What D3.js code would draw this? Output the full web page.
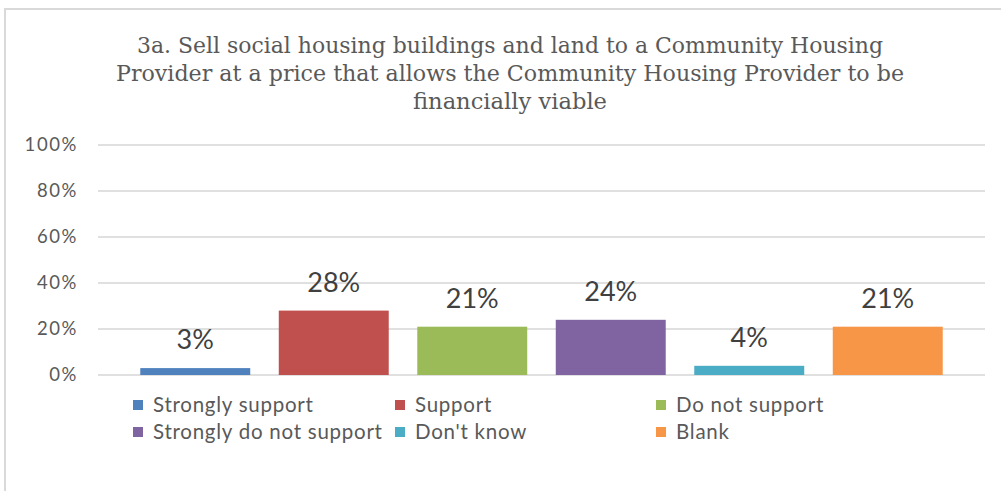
<!DOCTYPE html>
<html>
<head>
<meta charset="utf-8">
<script src="https://cdn.jsdelivr.net/npm/d3@7"></script>
<style>
  html, body { margin: 0; padding: 0; background: #fff; overflow: hidden; }
  svg { display: block; }
</style>
</head>
<body>
<svg id="chart" width="1001" height="491"></svg>
<script>
// Survey responses for question 3a
const categories = ["Strongly support", "Support", "Do not support", "Strongly do not support", "Don't know", "Blank"];
const values = [0.03, 0.28, 0.21, 0.24, 0.04, 0.21];
const colors = ["#4f81bd", "#c0504d", "#9bbb59", "#8064a2", "#4bacc6", "#f79646"];
const yTicks = [0, 0.2, 0.4, 0.6, 0.8, 1.0];
const titleLines = [
  "3a. Sell social housing buildings and land to a Community Housing",
  "Provider at a price that allows the Community Housing Provider to be",
  "financially viable"
];

const svg = d3.select("#chart");
const W = 1001, H = 491;

// chart area frame (runs off the right and bottom edges)
svg.append("rect")
  .attr("x", 5).attr("y", 9)
  .attr("width", W + 40).attr("height", H + 40)
  .attr("fill", "#fff")
  .attr("stroke", "#d9d9d9").attr("stroke-width", 2);

// title
const titleWidths = [746, 788, 194];
const titleG = svg.append("g")
  .attr("font-family", "'DejaVu Serif', 'Liberation Serif', serif")
  .attr("font-size", 22.5)
  .attr("fill", "#595959")
  .attr("text-anchor", "middle");
titleLines.forEach((t, i) => {
  titleG.append("text")
    .attr("x", 510)
    .attr("y", 53 + i * 28)
    .attr("textLength", titleWidths[i])
    .attr("lengthAdjust", "spacingAndGlyphs")
    .text(t);
});

// scales
const x = d3.scaleBand()
  .domain(categories)
  .range([126, 957])
  .paddingInner(0.206)
  .paddingOuter(0.103);
const y = d3.scaleLinear().domain([0, 1]).range([375, 145]);

// gridlines
svg.append("g")
  .selectAll("line")
  .data(yTicks)
  .join("line")
  .attr("x1", 98).attr("x2", 985)
  .attr("y1", d => y(d)).attr("y2", d => y(d))
  .attr("stroke", "#e0e0e0")
  .attr("stroke-width", 2);

// y axis labels
const yAxis = d3.axisLeft(y)
  .tickValues(yTicks)
  .tickFormat(d3.format(".0%"))
  .tickSize(0)
  .tickPadding(0);
const yG = svg.append("g")
  .attr("transform", "translate(78,0)")
  .call(yAxis);
yG.select(".domain").remove();
yG.selectAll("text")
  .attr("font-family", "Lato, 'Open Sans', sans-serif")
  .attr("font-size", 18.5)
  .attr("letter-spacing", 1.6)
  .attr("fill", "#595959");

// bars
svg.append("g")
  .selectAll("rect")
  .data(categories)
  .join("rect")
  .attr("x", d => x(d))
  .attr("width", x.bandwidth())
  .attr("y", (d, i) => y(values[i]))
  .attr("height", (d, i) => y(0) - y(values[i]))
  .attr("fill", (d, i) => colors[i]);

// value labels
svg.append("g")
  .selectAll("text")
  .data(categories)
  .join("text")
  .attr("x", d => x(d) + x.bandwidth() / 2)
  .attr("y", (d, i) => y(values[i]) - 19)
  .attr("text-anchor", "middle")
  .attr("font-family", "Lato, 'Open Sans', sans-serif")
  .attr("font-size", 27)
  .attr("fill", "#404040")
  .text((d, i) => d3.format(".0%")(values[i]));

// legend: three columns, two rows
const legendCols = [133, 395, 656];
const legendRows = [405, 432];
const legend = svg.append("g")
  .selectAll("g")
  .data(categories)
  .join("g")
  .attr("transform", (d, i) => `translate(${legendCols[i % 3]},${legendRows[Math.floor(i / 3)]})`);
legend.append("rect")
  .attr("x", 0).attr("y", -5)
  .attr("width", 10).attr("height", 10)
  .attr("fill", (d, i) => colors[i]);
legend.append("text")
  .attr("x", 20)
  .attr("y", 0)
  .attr("dy", "0.35em")
  .attr("font-family", "Lato, 'Open Sans', sans-serif")
  .attr("font-size", 20.5)
  .attr("letter-spacing", 0.75)
  .attr("fill", "#595959")
  .text(d => d);
</script>
</body>
</html>
